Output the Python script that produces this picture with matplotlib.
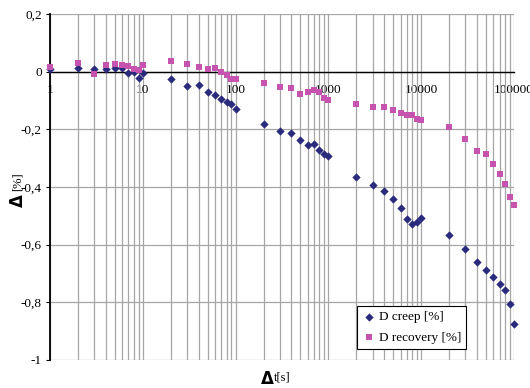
import numpy as np
import matplotlib
matplotlib.use("Agg")
import matplotlib.pyplot as plt
from matplotlib.ticker import FixedLocator, LogLocator, NullFormatter

# time points [s]
t = [1, 2, 3, 4, 5, 6, 7, 8, 9, 10,
     20, 30, 40, 50, 60, 70, 80, 90, 100,
     200, 300, 400, 500, 600, 700, 800, 900, 1000,
     2000, 3000, 4000, 5000, 6000, 7000, 8000, 9000, 10000,
     20000, 30000, 40000, 50000, 60000, 70000, 80000, 90000, 100000]

creep = [0.010, 0.012, 0.010, 0.008, 0.014, 0.014, -0.006, -0.001, -0.023, -0.004,
         -0.025, -0.050, -0.047, -0.071, -0.081, -0.096, -0.105, -0.113, -0.129,
         -0.182, -0.206, -0.214, -0.237, -0.253, -0.251, -0.271, -0.284, -0.291,
         -0.365, -0.392, -0.414, -0.441, -0.472, -0.511, -0.527, -0.521, -0.507,
         -0.566, -0.615, -0.660, -0.687, -0.712, -0.737, -0.757, -0.805, -0.875]

recovery = [0.017, 0.030, -0.008, 0.023, 0.027, 0.024, 0.020, 0.009, 0.006, 0.023,
            0.037, 0.028, 0.016, 0.009, 0.014, -0.001, -0.011, -0.025, -0.024,
            -0.038, -0.052, -0.055, -0.076, -0.069, -0.065, -0.069, -0.090, -0.100,
            -0.111, -0.121, -0.121, -0.132, -0.143, -0.152, -0.152, -0.163, -0.166,
            -0.191, -0.232, -0.274, -0.284, -0.319, -0.354, -0.388, -0.434, -0.464]

x_ticks = [1, 10, 100, 1000, 10000, 100000]
x_labels = ["1", "10", "100", "1000", "10000", "100000"]
y_ticks = [-1, -0.8, -0.6, -0.4, -0.2, 0, 0.2]
y_labels = ["-1", "-0,8", "-0,6", "-0,4", "-0,2", "0", "0,2"]

serif = "Liberation Serif"

fig = plt.figure(figsize=(5.30, 3.88), dpi=100)
ax = fig.add_axes([50 / 530, 1 - 360 / 388, 464 / 530, 346 / 388])

ax.set_xscale("log")
ax.set_xlim(1, 100000)
ax.set_ylim(-1, 0.2)

ax.grid(True, which="both", axis="x", color="#a6a6a6", lw=0.9)
ax.grid(True, which="major", axis="y", color="#a6a6a6", lw=0.9)
ax.set_axisbelow(True)

ax.scatter(t, creep, marker="D", s=18, color="#2b2b7e", label="D creep [%]", zorder=3,
           linewidths=0, clip_on=False)
ax.scatter(t, recovery, marker="s", s=22, color="#c653b0", label="D recovery [%]", zorder=3,
           linewidths=0, clip_on=False)

# x axis crossing at zero
ax.spines["bottom"].set_position(("data", 0))
ax.spines["bottom"].set_color("black")
ax.spines["bottom"].set_linewidth(1.0)
ax.spines["left"].set_color("black")
ax.spines["left"].set_linewidth(1.3)
ax.spines["top"].set_visible(False)
ax.spines["right"].set_visible(False)

ax.xaxis.set_major_locator(FixedLocator(x_ticks))
ax.set_xticklabels(x_labels, fontfamily=serif, fontsize=9.5)
ax.xaxis.set_minor_locator(LogLocator(base=10, subs=np.arange(2, 10)))
ax.xaxis.set_minor_formatter(NullFormatter())
ax.tick_params(axis="x", which="both", length=0, pad=9)

ax.set_yticks(y_ticks)
ax.set_yticklabels(y_labels, fontfamily=serif, fontsize=9.5)
ax.tick_params(axis="y", length=3, width=0.8, direction="out", pad=3)

# axis titles
fig.text(274 / 530, 1 - 379 / 388, "\u0394", fontsize=12, fontweight="bold",
         ha="right", va="center", family="DejaVu Sans")
fig.text(274 / 530, 1 - 378 / 388, "t[s]", fontsize=9, ha="left", va="center",
         family=serif)
fig.text(18 / 530, 1 - 194 / 388, "\u0394", fontsize=12, fontweight="bold",
         ha="center", va="top", rotation=90, family="DejaVu Sans")
fig.text(18 / 530, 1 - 191 / 388, "[%]", fontsize=9, ha="center", va="bottom",
         rotation=90, family=serif)

leg = ax.legend(loc="lower right", bbox_to_anchor=(0.897, 0.032), frameon=True,
                fancybox=False, edgecolor="black", framealpha=1,
                prop={"family": serif, "size": 9.5}, handletextpad=0.2,
                borderpad=0.4, labelspacing=0.6, handlelength=1.0, borderaxespad=0)
leg.get_frame().set_linewidth(0.8)

fig.savefig("out.png", dpi=100)
